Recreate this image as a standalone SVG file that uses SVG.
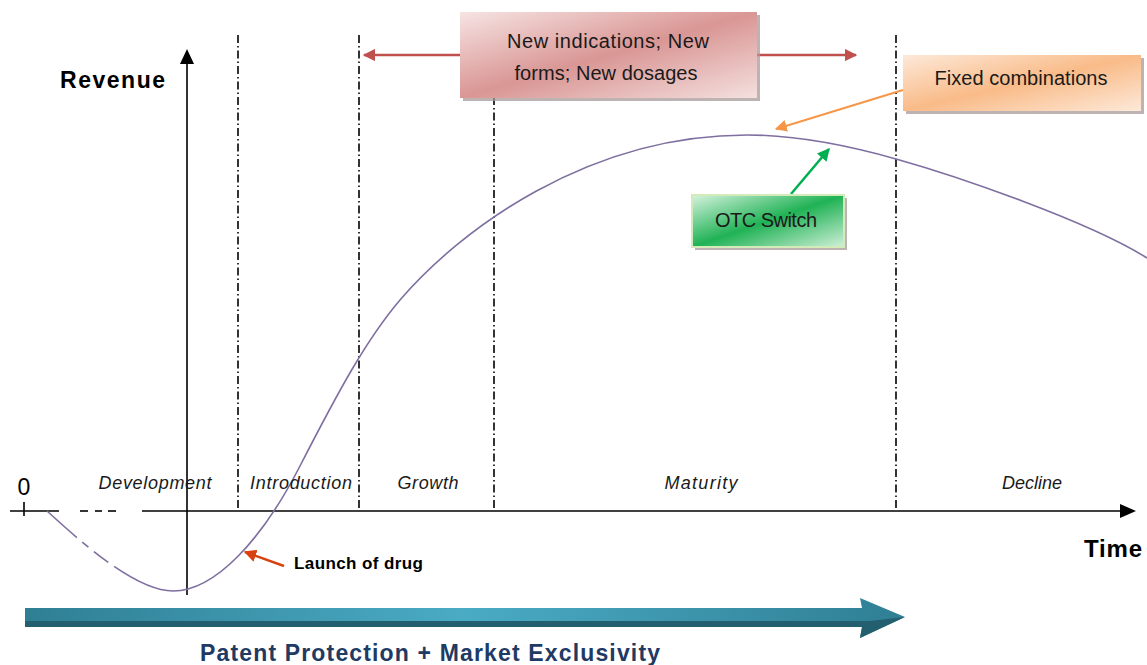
<svg xmlns="http://www.w3.org/2000/svg" width="1147" height="665" viewBox="0 0 1147 665">
<style>
.ax{stroke:#000;stroke-width:1.6;fill:none}
.dd{stroke:#000;stroke-width:1.6;fill:none;stroke-dasharray:8 3 1.5 3}
.curve{stroke:#7f6fa0;stroke-width:1.6;fill:none}
.ph{font-family:"Liberation Sans",Arial,sans-serif;font-style:italic;font-size:18px;fill:#1a1a1a;text-anchor:middle}
.bx{font-family:"Liberation Sans",Arial,sans-serif;font-size:20px;fill:#1a1a1a;text-anchor:middle}
.bold{font-family:"Liberation Sans",Arial,sans-serif;font-weight:bold;fill:#000}
.shadow{fill:#a89a9a;opacity:0.75}
</style>
<defs>
<linearGradient id="gPink" x1="0" y1="0" x2="1" y2="1">
<stop offset="0" stop-color="#f6e4e3"/><stop offset="0.5" stop-color="#d99694"/><stop offset="1" stop-color="#f4e0df"/>
</linearGradient>
<linearGradient id="gOrange" x1="0" y1="0" x2="1" y2="1">
<stop offset="0" stop-color="#fde9d9"/><stop offset="0.5" stop-color="#f9bb88"/><stop offset="1" stop-color="#fde9d9"/>
</linearGradient>
<linearGradient id="gGreen" x1="0" y1="0" x2="1" y2="1">
<stop offset="0" stop-color="#d6f3de"/><stop offset="0.5" stop-color="#20b255"/><stop offset="1" stop-color="#d0f0d8"/>
</linearGradient>
<linearGradient id="gTeal" x1="0" y1="0" x2="1" y2="0">
<stop offset="0" stop-color="#2f7f94"/><stop offset="0.5" stop-color="#4aabc4"/><stop offset="1" stop-color="#2f7f94"/>
</linearGradient>
<marker id="mRed" viewBox="0 0 10 10" refX="9" refY="5" markerWidth="5" markerHeight="5" orient="auto-start-reverse"><path d="M0,0 L10,5 L0,10 z" fill="#c0504d"/></marker>
<marker id="mOrange" viewBox="0 0 10 10" refX="9" refY="5" markerWidth="6" markerHeight="6" orient="auto"><path d="M0,0 L10,5 L0,10 z" fill="#f79646"/></marker>
<marker id="mGreen" viewBox="0 0 10 10" refX="9" refY="5" markerWidth="5" markerHeight="5" orient="auto"><path d="M0,0 L10,5 L0,10 z" fill="#00b050"/></marker>
<marker id="mLaunch" viewBox="0 0 10 10" refX="9" refY="5" markerWidth="5" markerHeight="5" orient="auto"><path d="M0,0 L10,5 L0,10 z" fill="#d9420f"/></marker>
</defs>
<rect width="1147" height="665" fill="#fff"/>

<g id="axes">
<line class="ax" x1="10" y1="511" x2="59" y2="511"/>
<line class="ax" x1="80" y1="511" x2="88" y2="511"/>
<line class="ax" x1="95" y1="511" x2="102" y2="511"/>
<line class="ax" x1="108" y1="511" x2="116" y2="511"/>
<line class="ax" x1="142" y1="511" x2="1122" y2="511"/>
<path d="M1136,511 L1120,504 L1120,518 z" fill="#000"/>
<line class="ax" x1="24" y1="502" x2="24" y2="516"/>
<line class="ax" x1="187" y1="595" x2="187" y2="60"/>
<path d="M187,49 L180,64 L194,64 z" fill="#000"/>
<line class="dd" x1="238" y1="35" x2="238" y2="511"/>
<line class="dd" x1="359" y1="35" x2="359" y2="511"/>
<line class="dd" x1="494" y1="35" x2="494" y2="511"/>
<line class="dd" x1="896" y1="35" x2="896" y2="511"/>
</g>

<g id="curve">
<path class="curve" d="M47,511 C80,541 135,591 173,591" stroke-dasharray="40 7 8 7 18 7 1000"/>
<path class="curve" d="M173,591 C215,591 262,540 300,466 C338,392 366,340 400,300 C460,230 587,135 747,135 C800,135 850,146 896,159 C960,177 1090,222 1147,258"/>
</g>

<g id="patent-arrow">
<polygon points="25,608 862,608 860,598 905,617 860,638 862,627 25,627" fill="url(#gTeal)"/>
<polygon points="25,621 870,621 905,617 860,638 862,627 25,627" fill="#245f70"/>
</g>

<g id="connectors">
<line x1="364" y1="55" x2="856" y2="55" stroke="#c0504d" stroke-width="2.5" marker-start="url(#mRed)" marker-end="url(#mRed)"/>
<line x1="903" y1="90" x2="776" y2="129" stroke="#f79646" stroke-width="2" marker-end="url(#mOrange)"/>
<line x1="791" y1="194" x2="829" y2="149" stroke="#00b050" stroke-width="2.5" marker-end="url(#mGreen)"/>
<line x1="284" y1="566" x2="245" y2="552" stroke="#d9420f" stroke-width="2.5" marker-end="url(#mLaunch)"/>
</g>

<g id="node-new">
<rect class="shadow" x="463" y="15" width="297" height="86"/>
<rect x="460" y="12" width="297" height="86" fill="url(#gPink)"/>
<text class="bx" x="608" y="48" textLength="202">New indications;  New</text>
<text class="bx" x="606" y="80" textLength="183">forms; New dosages</text>
</g>

<g id="node-fixed">
<rect class="shadow" x="906" y="58" width="238" height="56" fill="#b8a08c"/>
<rect x="903" y="55" width="238" height="56" fill="url(#gOrange)"/>
<text class="bx" x="1021" y="85" textLength="173">Fixed combinations</text>
</g>

<g id="node-otc">
<rect class="shadow" x="695" y="198" width="152" height="52" fill="#9aa89a"/>
<rect x="692" y="195" width="152" height="52" fill="url(#gGreen)" stroke="#d3ebb8" stroke-width="2"/>
<text class="bx" x="766" y="227" textLength="102">OTC Switch</text>
</g>

<g id="labels">
<text class="bold" x="60" y="88" font-size="23" textLength="105">Revenue</text>
<text class="bold" x="1084" y="557" font-size="24" textLength="58">Time</text>
<text x="24" y="495" font-family="Liberation Sans,Arial,sans-serif" font-size="23" text-anchor="middle" fill="#000">0</text>
<text class="bold" x="294" y="569" font-size="17" textLength="129">Launch of drug</text>
<text x="200" y="661" font-family="Liberation Sans,Arial,sans-serif" font-weight="bold" font-size="23" fill="#1f3a63" textLength="460">Patent Protection + Market Exclusivity</text>
<text class="ph" x="155" y="489" textLength="113">Development</text>
<text class="ph" x="301" y="489" textLength="102">Introduction</text>
<text class="ph" x="428" y="489" textLength="61">Growth</text>
<text class="ph" x="701" y="489" textLength="73">Maturity</text>
<text class="ph" x="1032" y="489" textLength="60">Decline</text>
</g>
</svg>
